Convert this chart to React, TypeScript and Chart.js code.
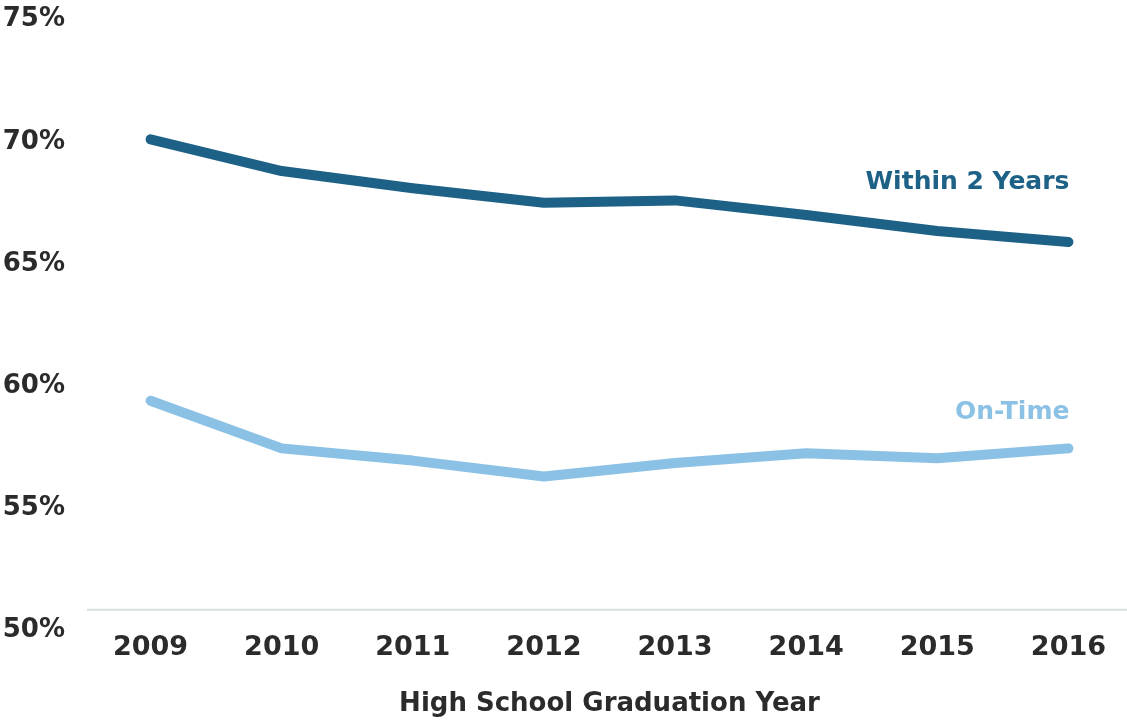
import React, { useEffect, useRef } from "react";
import { Chart, registerables } from "chart.js";

Chart.register(...registerables);

const years = ["2009", "2010", "2011", "2012", "2013", "2014", "2015", "2016"];
const withinTwoYears = [70.1, 68.8, 68.1, 67.5, 67.6, 67.0, 66.35, 65.9];
const onTime = [59.4, 57.45, 56.95, 56.3, 56.85, 57.25, 57.05, 57.45];
const seriesNames = ["Within 2 Years", "On-Time"];
const seriesColors = ["#1d6186", "#8bc1e5"];
const yTicks = [50, 55, 60, 65, 70, 75];
const axisTitle = "High School Graduation Year";
const baselineValue = 50.85;

const FONT = "'DejaVu Sans', sans-serif";
const TEXT = "#2b2b2b";

const decorPlugin = {
  id: "decor",
  beforeDatasetsDraw(chart: any) {
    const { ctx, chartArea, scales } = chart;
    const y = scales.y.getPixelForValue(baselineValue);
    ctx.save();
    ctx.strokeStyle = "#d9dede";
    ctx.lineWidth = 2;
    ctx.beginPath();
    ctx.moveTo(chartArea.left + 2, y);
    ctx.lineTo(chart.width, y);
    ctx.stroke();
    ctx.restore();
  },
  afterDatasetsDraw(chart: any) {
    const { ctx } = chart;
    const offsets = [-59, -36];
    ctx.save();
    ctx.font = `bold 25px ${FONT}`;
    ctx.textAlign = "right";
    ctx.textBaseline = "middle";
    chart.data.datasets.forEach((ds: any, i: number) => {
      const meta = chart.getDatasetMeta(i);
      const last = meta.data[meta.data.length - 1];
      ctx.fillStyle = seriesColors[i];
      ctx.fillText(ds.label, last.x + 1, last.y + offsets[i]);
    });
    ctx.restore();
  },
};

export default function App() {
  const ref = useRef<HTMLCanvasElement | null>(null);
  useEffect(() => {
    if (!ref.current) return;
    const chart = new Chart(ref.current, {
      type: "line",
      data: {
        labels: years,
        datasets: [
          {
            label: seriesNames[0],
            data: withinTwoYears,
            borderColor: seriesColors[0],
            borderWidth: 10,
            borderCapStyle: "round",
            borderJoinStyle: "round",
            pointRadius: 0,
            tension: 0,
          },
          {
            label: seriesNames[1],
            data: onTime,
            borderColor: seriesColors[1],
            borderWidth: 10,
            borderCapStyle: "round",
            borderJoinStyle: "round",
            pointRadius: 0,
            tension: 0,
          },
        ],
      },
      options: {
        animation: false,
        responsive: true,
        maintainAspectRatio: false,
        layout: { padding: { top: 0, right: 0, left: 0, bottom: 1 } },
        plugins: { legend: { display: false }, tooltip: { enabled: false } },
        scales: {
          x: {
            offset: true,
            grid: { display: false, drawTicks: false },
            border: { display: false },
            ticks: {
              color: TEXT,
              padding: 1,
              font: { family: FONT, weight: "bold", size: 27 },
            },
            title: {
              display: true,
              text: axisTitle,
              color: TEXT,
              padding: { top: 24, bottom: 0 },
              font: { family: FONT, weight: "bold", size: 26 },
            },
          },
          y: {
            min: 50,
            max: 75,
            afterBuildTicks: (scale: any) => {
              scale.ticks = yTicks.map((v) => ({ value: v }));
            },
            afterFit: (scale: any) => {
              scale.width = 85;
            },
            grid: { display: false, drawTicks: false },
            border: { display: false },
            ticks: {
              color: TEXT,
              padding: 20,
              font: { family: FONT, weight: "bold", size: 26 },
              callback: (v: any) => `${v}%`,
            },
          },
        },
      },
      plugins: [decorPlugin],
    });
    return () => chart.destroy();
  }, []);
  return (
    <div style={{ position: "fixed", left: 0, top: 0, width: 1127, height: 721, background: "#fff", overflow: "hidden" }}>
      <div style={{ position: "absolute", left: 0, top: -16, width: 1134, height: 737 }}>
        <canvas ref={ref} />
      </div>
    </div>
  );
}
